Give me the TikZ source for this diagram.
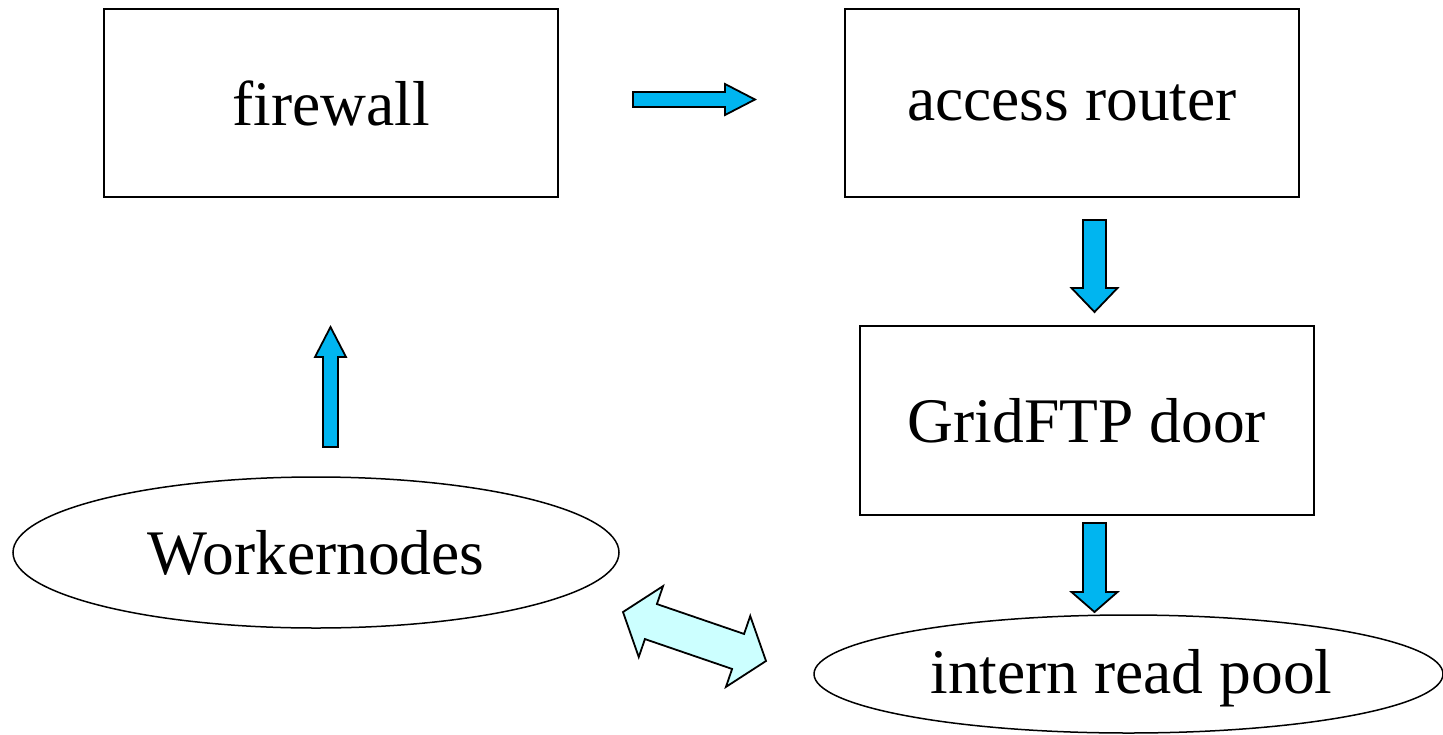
\documentclass[tikz,border=0pt]{standalone}
\usepackage{fontspec}
\setmainfont{Liberation Serif}
\usepackage{tikz}
\usetikzlibrary{positioning,calc,shapes.geometric}

\definecolor{flowblue}{RGB}{0,181,240}
\definecolor{paleblue}{RGB}{204,255,255}

\tikzset{
  bigtext/.style={font=\fontsize{63.5pt}{76pt}\selectfont},
  stagebox/.style={draw, line width=1.5pt, inner sep=0pt, minimum width=454pt, minimum height=188pt, bigtext},
  pool/.style={ellipse, draw, line width=1.5pt, inner sep=0pt, bigtext},
  ba shaft/.store in=\bashaft, ba head/.store in=\bahead, ba len/.store in=\balen,
  ba shaft=7.5pt, ba head=15.5pt, ba len=30pt,
  % one-headed block arrow between two points
  blockarrow/.style={draw, fill=flowblue, line width=1.8pt, line join=miter,
    to path={($(\tikztostart)!\bashaft!90:(\tikztotarget)$)
      -- ($(\tikztotarget)!\balen!(\tikztostart)!\bashaft!-90:(\tikztostart)$)
      -- ($(\tikztotarget)!\balen!(\tikztostart)!\bahead!-90:(\tikztostart)$)
      -- (\tikztotarget)
      -- ($(\tikztotarget)!\balen!(\tikztostart)!\bahead!90:(\tikztostart)$)
      -- ($(\tikztotarget)!\balen!(\tikztostart)!\bashaft!90:(\tikztostart)$)
      -- ($(\tikztostart)!\bashaft!-90:(\tikztotarget)$) -- cycle}},
  % two-headed block arrow
  dblarrow/.style={draw, fill=paleblue, line width=1.8pt, line join=miter,
    to path={(\tikztostart)
      -- ($(\tikztostart)!\balen!(\tikztotarget)!\bahead!90:(\tikztotarget)$)
      -- ($(\tikztostart)!\balen!(\tikztotarget)!\bashaft!90:(\tikztotarget)$)
      -- ($(\tikztotarget)!\balen!(\tikztostart)!\bashaft!-90:(\tikztostart)$)
      -- ($(\tikztotarget)!\balen!(\tikztostart)!\bahead!-90:(\tikztostart)$)
      -- (\tikztotarget)
      -- ($(\tikztotarget)!\balen!(\tikztostart)!\bahead!90:(\tikztostart)$)
      -- ($(\tikztotarget)!\balen!(\tikztostart)!\bashaft!90:(\tikztostart)$)
      -- ($(\tikztostart)!\balen!(\tikztotarget)!\bashaft!-90:(\tikztotarget)$)
      -- ($(\tikztostart)!\balen!(\tikztotarget)!\bahead!-90:(\tikztotarget)$)
      -- cycle}},
}

\begin{document}
\begin{tikzpicture}[x=1pt, y=-1pt]
  \useasboundingbox (0,0) rectangle (1443,734);

  % Stages of the transfer
  \node[stagebox] (firewall) at (331,103) {firewall};
  \node[stagebox] (router) at (1072,103) {access router};
  \node[stagebox, minimum height=189pt] (door) at (1087,420.5) {GridFTP door};
  \node[pool, minimum width=606pt, minimum height=151pt] (workers) at (316,552.5) {Workernodes};
  \node[pool, minimum width=629pt, minimum height=118pt] (readpool) at (1128.5,674) {\hspace*{6pt}\rule{0pt}{52pt}intern read pool};

  % Arrow end points
  \coordinate (fw-out) at (633,99.5);
  \coordinate (ar-in) at (755,99.5);
  \coordinate (ar-out) at (1094.5,220);
  \coordinate (gd-in) at (1094.5,312);
  \coordinate (gd-out) at (1094.5,523);
  \coordinate (rp-in) at (1094.5,612);
  \coordinate (wn-out) at (330.5,447);
  \coordinate (fw-in) at (330.5,327);
  \coordinate (wn-side) at (623,612);
  \coordinate (rp-side) at (766,661);

  % Block arrows
  \draw[blockarrow] (fw-out) to (ar-in);
  \draw[blockarrow, ba shaft=11.5pt, ba head=23pt, ba len=24pt] (ar-out) to (gd-in);
  \draw[blockarrow, ba shaft=11.5pt, ba head=23pt, ba len=20pt] (gd-out) to (rp-in);
  \draw[blockarrow] (wn-out) to (fw-in);
  \draw[dblarrow, ba shaft=18.5pt, ba head=37.5pt, ba len=29.5pt] (wn-side) to (rp-side);
\end{tikzpicture}
\end{document}
